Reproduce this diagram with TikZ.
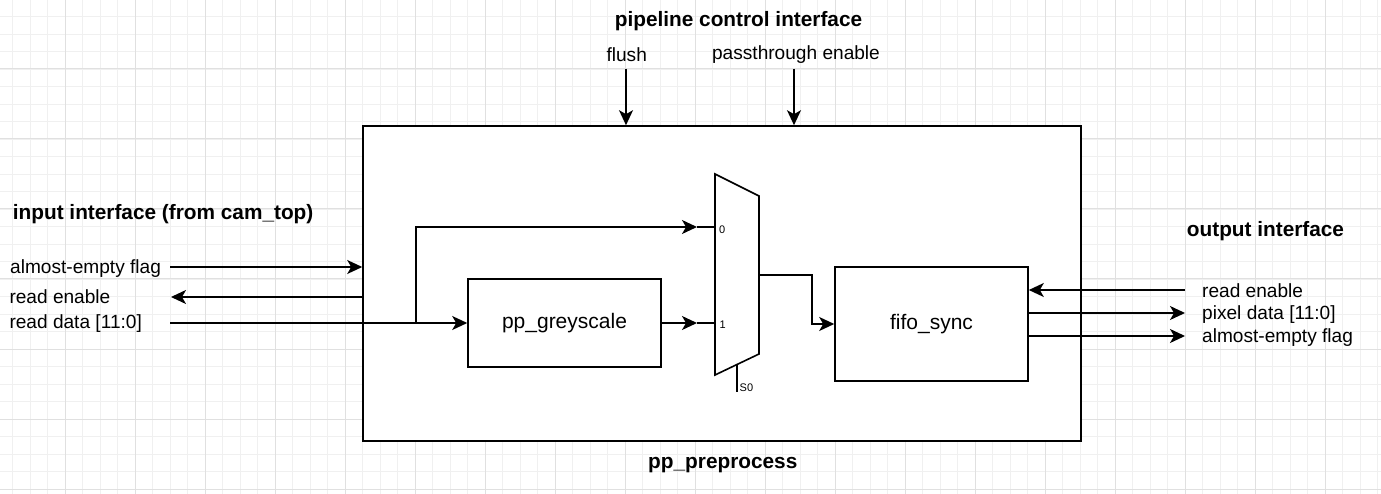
\documentclass[tikz,border=0pt]{standalone}
\usepackage{fontspec}
\setmainfont{Liberation Sans}
\usetikzlibrary{arrows.meta}

\begin{document}
\begin{tikzpicture}
          [x=1pt,y=-1pt,
          block/.style={shape=rectangle,draw=black,fill=white,line width=1.6pt,inner sep=0pt,font=\fontsize{21}{25}\selectfont},
          muxbody/.style={draw=black,fill=white,line width=1.6pt},
          sig/.style={-{Stealth[length=15pt,width=14pt,inset=4pt]},line width=1.6pt},
          wire/.style={line width=1.6pt},
          lbl/.style={font=\fontsize{19.1}{23}\selectfont,inner sep=0pt},
          hdr/.style={font=\fontsize{20.8}{25}\selectfont\bfseries,inner sep=0pt},
          port/.style={font=\fontsize{11}{13}\selectfont,inner sep=0pt},
          minorgrid/.style={draw=black!6,line width=0.8pt},
          majorgrid/.style={draw=black!12,line width=1pt}]

          \useasboundingbox (0,0) rectangle (1381,494);
          \fill [white] (0,0) rectangle (1381,494);
          \foreach \i in {0,...,80} \draw [minorgrid] ({-4.7+17.5*\i},0) -- ({-4.7+17.5*\i},494);
          \foreach \j in {0,...,29} \draw [minorgrid] (0,{-1+17.5*\j}) -- (1381,{-1+17.5*\j});
          \foreach \i in {0,...,20} \draw [majorgrid] ({-4.7+70*\i},0) -- ({-4.7+70*\i},494);
          \foreach \j in {0,...,7} \draw [majorgrid] (0,{-1+70*\j}) -- (1381,{-1+70*\j});

            \node (pre) [block,minimum width=718pt,minimum height=315pt] at (722,283.5) {};
            \node (grey) [block,minimum width=193pt,minimum height=88pt] at (564.5,323) {pp\_greyscale};
            \node (fifo) [block,minimum width=193pt,minimum height=114pt] at (931.5,324) {fifo\_sync};

            \draw [muxbody] (715,174) -- (759,196) -- (759,354) -- (715,375) -- cycle;
            \coordinate (m0) at (715,227);
            \coordinate (m1) at (715,323);
            \coordinate (mout) at (759,275);
            \coordinate (msel) at (736.7,364.6);
            \coordinate (in0) at (697,227);
            \coordinate (in1) at (697,323);
            \coordinate (sel) at (736.7,392);
            \node (p0) [port,anchor=west] at (719,229.5) {0};
            \node (p1) [port,anchor=west] at (719.5,324.5) {1};
            \node (ps) [port,anchor=west] at (739.5,387.5) {S0};

            \node (intitle) [hdr,anchor=west] at (12.7,214) {input interface (from cam\_top)};
            \node (aeinl) [lbl,anchor=west] at (10,268.5) {almost-empty flag};
            \node (reninl) [lbl,anchor=west] at (9.3,296.5) {read enable};
            \node (rdinl) [lbl,anchor=west] at (9.3,324) {read data [11:0]};
            \node (outtitle) [hdr,anchor=west] at (1186.7,231.5) {output interface};
            \node (renoutl) [lbl,anchor=west] at (1202,290.5) {read enable};
            \node (pdoutl) [lbl,anchor=west] at (1202,314.5) {pixel data [11:0]};
            \node (aeoutl) [lbl,anchor=west] at (1202,337.5) {almost-empty flag};
            \node (ctltitle) [hdr] at (738.5,21) {pipeline control interface};
            \node (flushl) [lbl] at (626.7,54.5) {flush};
            \node (passl) [lbl] at (796,54.5) {passthrough enable};
            \node (pretitle) [hdr] at (722.8,465) {pp\_preprocess};

            \coordinate (fl) at (626,69);
            \coordinate (passin) at (794,69);
            \coordinate (aein) at (170,267);
            \coordinate (renin) at (171,297);
            \coordinate (rdin) at (170,323);
            \coordinate (split) at (416,323);
            \coordinate (renout) at (1185,290);
            \coordinate (pdout) at (1185,313);
            \coordinate (aeout) at (1185,336);

          \draw [sig] (fl) -- (fl |- pre.north);
          \draw [sig] (passin) -- (passin |- pre.north);
          \draw [sig] (aein) -- (aein -| pre.west);
          \draw [sig] (renin -| pre.west) -- (renin);
          \draw [sig] (rdin) -- (grey);
          \draw [sig] (split) |- (in0);
          \draw [sig] (grey) -- (in1);
          \draw [wire] (in0) -- (m0);
          \draw [wire] (in1) -- (m1);
          \draw [wire] (msel) -- (sel);
          \draw [sig] (mout) -- ++(53,0) |- (fifo.west);
          \draw [sig] (renout) -- (renout -| fifo.east);
          \draw [sig] (pdout -| fifo.east) -- (pdout);
          \draw [sig] (aeout -| fifo.east) -- (aeout);

        \end{tikzpicture}
\end{document}
